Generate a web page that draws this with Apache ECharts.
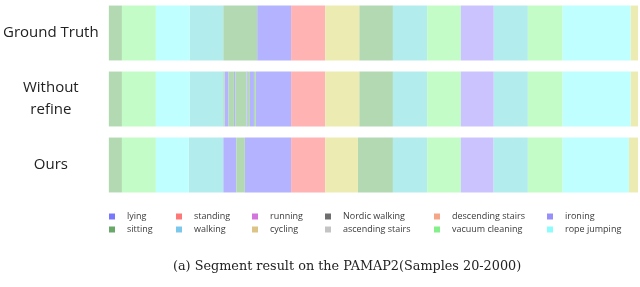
<!DOCTYPE html>
<html>
<head>
<meta charset="utf-8">
<script src="https://cdn.jsdelivr.net/npm/echarts@6/dist/echarts.min.js"></script>
<style>html,body{margin:0;padding:0;background:#fff}#c{width:640px;height:287px}</style>
</head>
<body>
<div id="c"></div>
<script>
const rowNames = ['Ground Truth', 'Without\nrefine', 'Ours'];
const activities = ['lying', 'sitting', 'standing', 'walking', 'running', 'cycling',
  'Nordic walking', 'ascending stairs', 'descending stairs', 'vacuum cleaning', 'ironing', 'rope jumping'];
const segColors = ['#b3b3ff', '#b3d9b3', '#ffb3b3', '#b3ecec', '#ecb3ec', '#ecebb1',
  '#b3b3b3', '#dcdcdc', '#fbd4c4', '#c3fcc6', '#cbc3fd', '#c0ffff'];
const legendColors = ['#7878ff', '#6aa86a', '#ff7878', '#7cc8ec', '#d275dc', '#dcc486',
  '#6e6e6e', '#c4c4c4', '#f6a688', '#84f08c', '#9890fa', '#8cfcfc'];

const gtBounds = [20, 69, 196, 322, 448, 575, 702, 830, 957, 1083, 1211, 1337, 1460, 1588, 1718, 1972, 2000];
const gtLabels = ['sitting', 'vacuum cleaning', 'rope jumping', 'walking', 'sitting', 'lying', 'standing', 'cycling',
  'sitting', 'walking', 'vacuum cleaning', 'ironing', 'walking', 'vacuum cleaning', 'rope jumping', 'cycling'];

const woBounds = [20, 69, 196, 322, 448, 453, 468, 488, 493, 535, 540, 548, 563, 570, 702, 830, 957, 1083, 1211, 1337, 1460, 1588, 1718, 1972, 2000];
const woLabels = ['sitting', 'vacuum cleaning', 'rope jumping', 'walking', 'sitting', 'lying', 'sitting', 'lying',
  'sitting', 'lying', 'sitting', 'lying', 'sitting', 'lying', 'standing', 'cycling', 'sitting', 'walking',
  'vacuum cleaning', 'ironing', 'walking', 'vacuum cleaning', 'rope jumping', 'cycling'];

const oursBounds = [20, 69, 196, 319, 448, 497, 529, 702, 830, 952, 1083, 1211, 1337, 1459, 1588, 1718, 1966, 2000];
const oursLabels = ['sitting', 'vacuum cleaning', 'rope jumping', 'walking', 'lying', 'sitting', 'lying', 'standing',
  'cycling', 'sitting', 'walking', 'vacuum cleaning', 'ironing', 'walking', 'vacuum cleaning', 'rope jumping', 'cycling'];

const captionText = '(a) Segment result on the PAMAP2(Samples 20-2000)';

const rows = [[gtBounds, gtLabels], [woBounds, woLabels], [oursBounds, oursLabels]];
const segData = {};
activities.forEach(a => segData[a] = []);
rows.forEach(([b, l], r) => {
  l.forEach((name, i) => segData[name].push([b[i], b[i + 1], r]));
});

function renderItem(params, api) {
  const s = api.coord([api.value(0), api.value(2)]);
  const e = api.coord([api.value(1), api.value(2)]);
  const h = api.size([0, 1])[1] * 0.832;
  return {
    type: 'rect',
    shape: { x: s[0], y: s[1] - h / 2, width: e[0] - s[0], height: h },
    style: { fill: api.visual('color') }
  };
}

const series = activities.map((a, i) => ({
  type: 'custom',
  name: a,
  renderItem: renderItem,
  itemStyle: { color: segColors[i] },
  encode: { x: [0, 1], y: 2 },
  data: segData[a],
  silent: true
}));

const legendLeft = [109, 176, 252, 325, 434, 547];
const legends = [];
for (let c = 0; c < 6; c++) {
  const names = [activities[c * 2], activities[c * 2 + 1]];
  legends.push({
    orient: 'vertical',
    left: legendLeft[c],
    top: 211,
    padding: 0,
    itemGap: 2,
    itemWidth: 6,
    itemHeight: 6,
    icon: 'rect',
    selectedMode: false,
    textStyle: { fontFamily: 'Open Sans', fontSize: 9, color: '#3a3a3a', padding: [0, 0, 0, 7], lineHeight: 11 },
    data: names.map(n => ({ name: n, itemStyle: { color: legendColors[activities.indexOf(n)] } }))
  });
}

const chart = echarts.init(document.getElementById('c'), null, { renderer: 'canvas' });
chart.setOption({
  animation: false,
  grid: { left: 108, right: 2, top: -4, height: 202 },
  xAxis: { type: 'value', min: 20, max: 2000, show: false },
  yAxis: {
    type: 'category', data: rowNames, inverse: true,
    axisLine: { show: false }, axisTick: { show: false }, splitLine: { show: false },
    axisLabel: { align: 'center', margin: 58, fontFamily: 'Open Sans', fontSize: 15, color: '#222', lineHeight: 22, padding: [0, 0, 6, 0] }
  },
  legend: legends,
  series: series,
  graphic: [{
    type: 'text', left: 173, top: 260,
    style: { text: captionText, font: '12.8px "DejaVu Serif"', fill: '#222' }
  }]
});
</script>
</body>
</html>
